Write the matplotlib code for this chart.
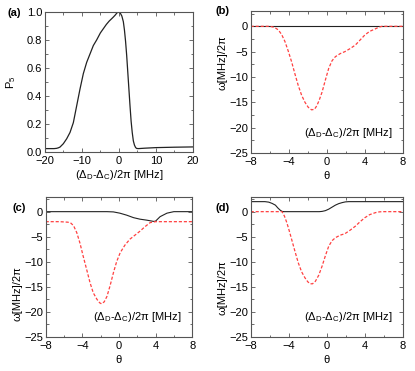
import matplotlib
matplotlib.use("Agg")
import matplotlib.pyplot as plt
from matplotlib.ticker import MultipleLocator, FormatStrFormatter

plt.rcParams['font.family'] = ['Liberation Sans', 'DejaVu Sans']
plt.rcParams['font.size'] = 8
plt.rcParams['mathtext.fontset'] = 'custom'
plt.rcParams['mathtext.rm'] = 'Liberation Sans'
plt.rcParams['mathtext.it'] = 'Liberation Sans'

# Panel (a): P5 vs detuning
a_x = [-20, -17.5, -16.8, -16.3, -15.9, -15.0, -14.1, -13.2, -12.3, -11.4, -10.5, -9.6,
       -8.7, -7.8, -6.9, -6.0, -5.0, -4.2, -3.4, -2.6, -2.0, -1.5, -1.0, -0.6, -0.3, 0.0,
       0.4, 0.8, 1.2, 1.5, 1.8, 2.1, 2.4, 2.7, 3.0, 3.3, 3.6, 3.9, 4.2, 4.5, 4.8, 5.3,
       7, 10, 15, 20]
a_y = [0.025, 0.025, 0.027, 0.031, 0.036, 0.06, 0.095, 0.14, 0.21, 0.33, 0.45, 0.56,
       0.64, 0.70, 0.76, 0.80, 0.85, 0.88, 0.91, 0.935, 0.95, 0.963, 0.977, 0.99, 0.998, 1.0,
       0.99, 0.97, 0.93, 0.87, 0.79, 0.69, 0.57, 0.45, 0.33, 0.22, 0.14, 0.08, 0.05, 0.033,
       0.026, 0.025, 0.028, 0.032, 0.035, 0.037]

# Panels (b)-(d): omega vs theta
theta_b = [-8, -6.5, -6, -5.5, -5.1, -4.75, -4.4, -4.05, -3.7, -3.35, -3.0, -2.65, -2.3,
           -1.95, -1.6, -1.3, -1.05, -0.8, -0.5, -0.15, 0.2, 0.55, 0.9, 1.4, 1.9, 2.45,
           3.0, 3.5, 4.0, 4.5, 5.1, 5.5, 5.8, 6.5, 8]
red_b = [0, 0, 0, -0.2, -0.7, -1.6, -3.0, -4.9, -7.0, -9.4, -11.7, -13.6, -15.0,
         -16.0, -16.5, -16.4, -15.7, -14.6, -13.0, -10.6, -8.3, -6.8, -6.0, -5.4, -5.0, -4.4,
         -3.7, -2.7, -1.7, -1.0, -0.5, -0.15, 0, 0, 0]
black_b = [0, 0]
theta_b_black = [-8, 8]

theta_c = [-8, -6.5, -6.0, -5.6, -5.3, -4.95, -4.6, -4.25, -3.9, -3.5, -3.15, -2.8, -2.4,
           -2.1, -1.9, -1.6, -1.3, -0.95, -0.6, -0.25, 0.14, 0.65, 1.2, 1.75, 2.3, 2.85,
           3.4, 4.0, 5, 8]
red_c = [-2, -2, -2.05, -2.1, -2.2, -2.8, -4.2, -6.3, -8.9, -11.7, -14.2, -16.2, -17.5,
         -18.2, -18.4, -18.0, -16.9, -14.7, -12.2, -10.0, -8.2, -6.7, -5.5, -4.7, -3.9, -3.0,
         -2.2, -2.0, -2.0, -2.0]
black_c = [0, 0, 0, -0.05, -0.3, -0.7, -1.2, -1.5, -1.7, -1.85, -1.95, -1.9, -1.0, -0.3,
           0, 0]
theta_c_black = [-8, -2, -1.3, -0.6, 0.1, 0.85, 1.6, 2.3, 3.05, 3.5, 3.8, 4.0, 4.5, 5.25,
                 6.0, 8]

theta_d = [-8, -6, -5.0, -4.7, -4.45, -4.2, -3.95, -3.7, -3.35, -3.0, -2.65, -2.3, -2.0,
           -1.75, -1.5, -1.2, -0.85, -0.5, -0.15, 0.2, 0.55, 0.9, 1.4, 1.9, 2.45, 3.0,
           3.5, 4.0, 4.5, 5.1, 5.5, 5.8, 6.5, 8]
red_d = [0, 0, 0, 0, -0.9, -2.2, -3.8, -5.5, -7.9, -10.2, -12.0, -13.2, -14.0,
         -14.4, -14.4, -13.9, -12.7, -10.9, -8.8, -6.9, -5.8, -5.2, -4.7, -4.4, -3.7, -2.9,
         -2.0, -1.2, -0.6, -0.2, -0.05, 0, 0, 0]
black_d = [2, 2, 1.9, 1.65, 1.3, 0.75, 0.3, 0.05, 0, 0, 0.05, 0.2, 0.5, 0.9, 1.3, 1.6,
           1.8, 1.95, 2, 2]
theta_d_black = [-8, -6.5, -6.1, -5.75, -5.4, -5.15, -4.9, -4.7, -4.5, -0.8, -0.5, -0.15,
                 0.2, 0.55, 0.9, 1.25, 1.6, 1.95, 2.3, 8]

RED = '#ff4040'
BLACK = '#222222'

fig = plt.figure(figsize=(4.15, 3.71), dpi=100)

def style(ax, xmaj, xmin, ymaj, ymin):
    ax.xaxis.set_major_locator(MultipleLocator(xmaj))
    ax.xaxis.set_minor_locator(MultipleLocator(xmin))
    ax.yaxis.set_major_locator(MultipleLocator(ymaj))
    ax.yaxis.set_minor_locator(MultipleLocator(ymin))
    ax.tick_params(which='both', direction='in', top=True, right=True,
                   width=0.6, colors='#555555', labelcolor='black', labelsize=8)
    ax.tick_params(axis='y', pad=2)
    ax.tick_params(axis='x', pad=3)
    ax.tick_params(which='major', length=3)
    ax.tick_params(which='minor', length=1.8)
    for s in ax.spines.values():
        s.set_color('#555555')
        s.set_linewidth(0.8)

# (a)
axa = fig.add_axes([0.108, 0.590, 0.357, 0.378])
axa.plot(a_x, a_y, color=BLACK, lw=0.9)
axa.set_xlim(-20, 20)
axa.set_ylim(0, 1.0)
style(axa, 10, 5, 0.2, 0.1)
axa.yaxis.set_major_formatter(FormatStrFormatter('%.1f'))
axa.set_xlabel(r'($\Delta_{\rm D}$-$\Delta_{\rm C}$)/2π [MHz]', labelpad=1)
axa.set_ylabel(r'P$_5$')
axa.yaxis.set_label_coords(-0.18, 0.5)
fig.text(0.017, 0.965, '(a)', fontweight='bold', fontsize=8, va='center')

panels = [
    ([0.604, 0.588, 0.367, 0.382], theta_b, red_b, theta_b_black, black_b, '(b)',
     (0.52, 0.970), (-0.15, 0.64)),
    ([0.110, 0.092, 0.353, 0.378], theta_c, red_c, theta_c_black, black_c, '(c)',
     (0.03, 0.440), (-0.16, 0.31)),
    ([0.604, 0.092, 0.367, 0.378], theta_d, red_d, theta_d_black, black_d, '(d)',
     (0.52, 0.440), (-0.15, 0.35)),
]
for rect, tx, ry, tbx, by, lab, lpos, ylpos in panels:
    ax = fig.add_axes(rect)
    ax.plot(tbx, by, color=BLACK, lw=0.8)
    ax.plot(tx, ry, color=RED, lw=0.9, ls=(0, (2.5, 1.5)))
    ax.set_xlim(-8, 8)
    ax.set_ylim(-25, 3)
    style(ax, 4, 2, 5, 2.5)
    ax.set_xlabel('θ', labelpad=3)
    ax.set_ylabel('ω[MHz]/2π')
    ax.yaxis.set_label_coords(*ylpos)
    ax.text(0.93, 0.14, r'($\Delta_{\rm D}$-$\Delta_{\rm C}$)/2π [MHz]', transform=ax.transAxes,
            ha='right', va='center', fontsize=8)
    fig.text(lpos[0], lpos[1], lab, fontweight='bold', fontsize=8, va='center')

fig.savefig('out.png', dpi=100)
